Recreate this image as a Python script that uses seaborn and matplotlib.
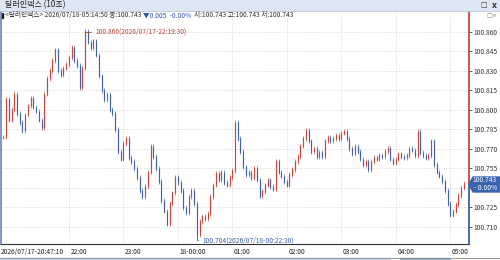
import numpy as np
import pandas as pd
import matplotlib
matplotlib.use("Agg")
import matplotlib.pyplot as plt
from matplotlib.patches import Rectangle, Polygon
from matplotlib.lines import Line2D
import seaborn as sns

sns.set_style("white")
plt.rcParams["font.family"] = ["Noto Sans CJK KR", "DejaVu Sans"]

# DATA - 달러인덱스 10초봉, 3분 간격으로 읽은 종가
close_a = [100.779, 100.808, 100.792, 100.800, 100.812, 100.797, 100.790, 100.784, 100.796, 100.803,
           100.809, 100.802, 100.799, 100.792, 100.786, 100.812, 100.824, 100.830, 100.838, 100.846,
           100.830, 100.827, 100.832, 100.835, 100.840, 100.848, 100.838, 100.834, 100.817, 100.832,
           100.860, 100.852, 100.848, 100.853, 100.842, 100.826, 100.815, 100.808, 100.812, 100.800,
           100.797, 100.785]
close_b = [100.768, 100.762, 100.774, 100.778, 100.763, 100.760, 100.755, 100.748, 100.738, 100.733,
           100.741, 100.752, 100.772, 100.764, 100.755, 100.745, 100.730, 100.722, 100.712, 100.728,
           100.736, 100.748, 100.744, 100.738, 100.725, 100.721, 100.733, 100.738, 100.728, 100.704,
           100.714, 100.718, 100.716, 100.720, 100.733, 100.742, 100.751, 100.746, 100.752, 100.744,
           100.742, 100.748, 100.753]
close_c = [100.790, 100.778, 100.768, 100.756, 100.750, 100.752, 100.748, 100.755, 100.746, 100.734,
           100.737, 100.742, 100.746, 100.741, 100.739, 100.760, 100.752, 100.749, 100.745, 100.742,
           100.750, 100.754, 100.760, 100.764, 100.772, 100.778, 100.784, 100.776, 100.768, 100.770,
           100.764, 100.767, 100.764, 100.776, 100.779, 100.776, 100.778, 100.780, 100.778, 100.782,
           100.783, 100.778, 100.770]
close_d = [100.766, 100.772, 100.768, 100.762, 100.758, 100.760, 100.754, 100.760, 100.763, 100.762,
           100.765, 100.764, 100.768, 100.770, 100.762, 100.759, 100.762, 100.766, 100.764, 100.763,
           100.765, 100.770, 100.769, 100.765, 100.783, 100.767, 100.765, 100.763, 100.765, 100.776,
           100.758, 100.752, 100.749, 100.745, 100.738, 100.728, 100.719, 100.722, 100.727, 100.734,
           100.740, 100.743]

y_ticks = [100.710, 100.725, 100.740, 100.755, 100.770, 100.785, 100.800, 100.815, 100.830, 100.845, 100.860]
y_labels = ["100.710", "100.725", "", "100.755", "100.770", "100.785", "100.800", "100.815",
            "100.830", "100.845", "100.860"]
hour_ticks = ["2026-07-17 22:00", "2026-07-17 23:00", "2026-07-18 00:00", "2026-07-18 01:00",
              "2026-07-18 02:00", "2026-07-18 03:00", "2026-07-18 04:00", "2026-07-18 05:00"]
hour_labels = ["22:00", "23:00", "18-00:00", "01:00", "02:00", "03:00", "04:00", "05:00"]
last_price = 100.743
max_text = "100.860(2026/07/17-22:19:30)"
min_text = "100.704(2026/07/18-00:22:30)"

UP = "#c8463c"
DOWN = "#3f62a8"

prices = close_a + close_b + close_c + close_d
times = pd.date_range("2026-07-17 20:48", periods=len(prices), freq="3min")
df = pd.DataFrame({"time": times, "close": prices})
df["open"] = df["close"].shift(1).fillna(df["close"].iloc[0])
df["dir"] = np.where(df["close"] >= df["open"], "up", "down")
df["body_lo"] = df[["open", "close"]].min(axis=1)
df["body_hi"] = df[["open", "close"]].max(axis=1)

W, H = 500, 260
def fx(px):
    return px / W
def fy(py):
    return 1 - py / H

fig = plt.figure(figsize=(5, 2.6), dpi=100)
fig.patch.set_facecolor("white")
ax = fig.add_axes([fx(1), fy(244), fx(468), (244 - 12) / H])

ylo, yhi = 100.6967, 100.8752
ax.set_ylim(ylo, yhi)
ax.set_xlim(pd.Timestamp("2026-07-17 20:45:20"), pd.Timestamp("2026-07-18 05:20:40"))

# candles (wick + body)
cols = np.where(df["dir"] == "up", UP, DOWN)
ax.vlines(df["time"], df["body_lo"] - 0.0018, df["body_hi"] + 0.0018, colors=cols, linewidth=0.45, zorder=3)
ax.vlines(df["time"], df["body_lo"] - 0.0004, df["body_hi"] + 0.0004, colors=cols, linewidth=0.85, zorder=3)
sns.scatterplot(data=df, x="time", y="close", hue="dir", palette={"up": UP, "down": DOWN},
                marker="|", s=3, linewidth=0.5, legend=False, ax=ax, zorder=4)

# grid
ax.set_yticks(y_ticks)
ax.set_yticklabels(y_labels)
ax.set_xticks(pd.to_datetime(hour_ticks))
ax.set_xticklabels([])
ax.grid(True, color="#c9c9c9", linestyle=(0, (1, 2)), linewidth=0.6)
ax.set_xlabel("")
ax.set_ylabel("")
ax.yaxis.tick_right()
ax.tick_params(axis="y", length=2, width=0.6, color="#444", pad=1.5, labelsize=4.8, labelcolor="#333")
ax.tick_params(axis="x", length=6, width=0.6, color="#777", direction="out")

for s in ["top", "right"]:
    ax.spines[s].set_visible(False)
ax.spines["left"].set_color("#6a86b8")
ax.spines["left"].set_linewidth(1.2)
ax.spines["bottom"].set_color("#333")
ax.spines["bottom"].set_linewidth(0.8)

# right axis line: red above current price, blue below
frac = (last_price - ylo) / (yhi - ylo)
ax.plot([1, 1], [frac, 1], transform=ax.transAxes, color="#c0392b", lw=1.2, clip_on=False)
ax.plot([1, 1], [0, frac], transform=ax.transAxes, color="#2b55a0", lw=1.2, clip_on=False)

# x labels
ax.annotate("2026/07/17-20:47:10", xy=(0, 0), xycoords="axes fraction", xytext=(0, -2.6),
            textcoords="offset points", ha="left", va="top", fontsize=4.8, color="#222")
for t, lbl in zip(pd.to_datetime(hour_ticks), hour_labels):
    ax.annotate(lbl, xy=(t, 0), xycoords=("data", "axes fraction"), xytext=(1.2, -2.6),
                textcoords="offset points", ha="left", va="top", fontsize=4.8, color="#222")

# high / low markers
imax = int(np.argmax(prices))
imin = int(np.argmin(prices))
t_max, p_max = times[imax], prices[imax]
t_min, p_min = times[imin], prices[imin]
ax.annotate(max_text, xy=(t_max, p_max - 0.0045), xytext=(t_max + pd.Timedelta(minutes=11), p_max),
            ha="left", va="center", fontsize=4.8, color="#b5473a",
            arrowprops=dict(arrowstyle="-", color="#b5473a", lw=0.6, shrinkA=0.5, shrinkB=0,
                            connectionstyle="angle,angleA=0,angleB=90,rad=0"))
ax.annotate(min_text, xy=(t_min, p_min), xytext=(t_min + pd.Timedelta(minutes=6), p_min - 0.0044),
            ha="left", va="center", fontsize=4.8, color="#3f62a8",
            arrowprops=dict(arrowstyle="-", color="#3f62a8", lw=0.6, shrinkA=0.5, shrinkB=0,
                            connectionstyle="angle,angleA=0,angleB=90,rad=0"))

# current price box
yc = 184
box = Polygon([(fx(469), fy(yc)), (fx(473), fy(177)), (fx(500), fy(177)), (fx(500), fy(192)),
               (fx(473), fy(192))], closed=True, transform=fig.transFigure, color="#3a63b0", zorder=1)
fig.patches.append(box)
fig.text(fx(497), fy(180.3), f"{last_price:.3f}", ha="right", va="center", fontsize=4.8, color="white", zorder=6)
fig.text(fx(497), fy(187.6), "- 0.00%", ha="right", va="center", fontsize=4.8, color="white", zorder=6)

# title bar
fig.patches.append(Rectangle((0, fy(10)), 1, 10 / H, transform=fig.transFigure, color="#dce7f3", zorder=0))
fig.text(fx(5), fy(5), "달러인덱스 (10초)", ha="left", va="center", fontsize=5.8, color="#222")
fig.text(fx(484), fy(5), "□", ha="center", va="center", fontsize=5, color="#333", family="DejaVu Sans")
fig.text(fx(494), fy(5), "x", ha="center", va="center", fontsize=5.5, color="#333", weight="bold",
         family="DejaVu Sans")
fig.text(fx(486), fy(15.5), "□×", ha="left", va="center", fontsize=4.5, color="#888", family="DejaVu Sans")
fig.lines.append(Line2D([0, 1], [fy(10.5), fy(10.5)], transform=fig.transFigure, color="#b8c6d8", lw=0.6))

# info line
fig.patches.append(Rectangle((fx(1.5), fy(18)), fx(1.5), 5 / H, transform=fig.transFigure, color="#222"))
renderer = fig.canvas.get_renderer()
parts = [("<달러인덱스> 2026/07/18-05:14:50 종:100.743 ", "#333"),
         ("▼0.005  -0.00%", "#3355aa"),
         ("  시:100.743 고:100.743 저:100.743", "#333")]
xpos = fx(5)
for s, c in parts:
    t = fig.text(xpos, fy(15.5), s, ha="left", va="center", fontsize=4.8, color=c)
    bb = t.get_window_extent(renderer)
    xpos = bb.x1 / fig.bbox.width

# bottom border and scroll strip
fig.lines.append(Line2D([0, 1], [fy(257.5), fy(257.5)], transform=fig.transFigure, color="#888", lw=0.6))
fig.patches.append(Rectangle((0, 0), fx(390), 2.2 / H, transform=fig.transFigure, color="#c9d9ee"))
fig.patches.append(Rectangle((fx(400), 0), fx(50), 2.2 / H, transform=fig.transFigure, color="#9fb2cc"))

fig.savefig("out.png", dpi=100)
